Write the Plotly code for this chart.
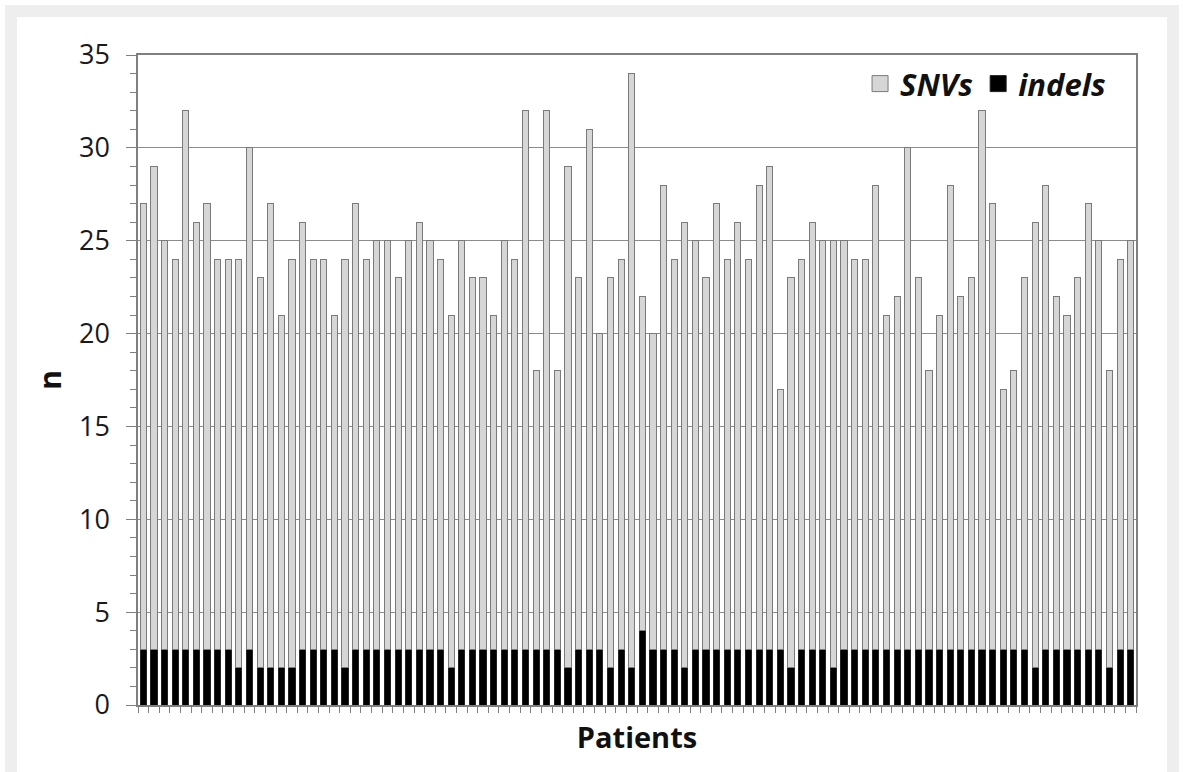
import plotly.graph_objects as go

# ---- data ----
patients = list(range(1, 95))

snvs = [24, 26, 22, 21, 29, 23, 24, 21, 21, 22,
        27, 21, 25, 19, 22, 23, 21, 21, 18, 22,
        24, 21, 22, 22, 20, 22, 23, 22, 21, 19,
        22, 20, 20, 18, 22, 21, 29, 15, 29, 15,
        27, 20, 28, 17, 21, 21, 32, 18, 17, 25,
        21, 24, 22, 20, 24, 21, 23, 21, 25, 26,
        14, 21, 21, 23, 22, 23, 22, 21, 21, 25,
        18, 19, 27, 20, 15, 18, 25, 19, 20, 29,
        24, 14, 15, 20, 24, 25, 19, 18, 20, 24,
        22, 16, 21, 22]

indels = [3, 3, 3, 3, 3, 3, 3, 3, 3, 2,
          3, 2, 2, 2, 2, 3, 3, 3, 3, 2,
          3, 3, 3, 3, 3, 3, 3, 3, 3, 2,
          3, 3, 3, 3, 3, 3, 3, 3, 3, 3,
          2, 3, 3, 3, 2, 3, 2, 4, 3, 3,
          3, 2, 3, 3, 3, 3, 3, 3, 3, 3,
          3, 2, 3, 3, 3, 2, 3, 3, 3, 3,
          3, 3, 3, 3, 3, 3, 3, 3, 3, 3,
          3, 3, 3, 3, 2, 3, 3, 3, 3, 3,
          3, 2, 3, 3]

y_ticks = [0, 5, 10, 15, 20, 25, 30, 35]

# ---- layout geometry (pixels) ----
W, H = 1183, 772
L, R, T, B = 138, 47, 55, 67
PW, PH = W - L - R, H - T - B


def px(xp):
    return (xp - L) / PW


def py(yp):
    return (H - B - yp) / PH


FONT = "Open Sans"
AXIS_GRAY = "#7f7f7f"
SNV_FILL, SNV_EDGE = "#d6d6d6", "#7a7a7a"
INDEL_FILL, INDEL_EDGE = "#000000", "#222222"

fig = go.Figure()
fig.add_trace(go.Bar(
    x=patients, y=indels, name="indels", showlegend=False, legendgroup="indels",
    marker=dict(color=INDEL_FILL, line=dict(color=INDEL_EDGE, width=1)),
))
fig.add_trace(go.Bar(
    x=patients, y=snvs, name="SNVs", showlegend=False, legendgroup="SNVs",
    marker=dict(color=SNV_FILL, line=dict(color=SNV_EDGE, width=1)),
))
# legend entries with larger square swatches (no data of their own)
fig.add_trace(go.Scatter(
    x=[None], y=[None], mode="markers", name="SNVs", legendgroup="SNVs",
    marker=dict(symbol="square", size=16, color=SNV_FILL,
                line=dict(color=SNV_EDGE, width=1)),
))
fig.add_trace(go.Scatter(
    x=[None], y=[None], mode="markers", name="indels", legendgroup="indels",
    marker=dict(symbol="square", size=16, color=INDEL_FILL,
                line=dict(color=INDEL_EDGE, width=1)),
))

boundaries = [p - 0.5 for p in patients] + [patients[-1] + 0.5]

fig.update_layout(
    width=W, height=H,
    margin=dict(l=L, r=R, t=T, b=B, pad=0),
    barmode="stack",
    bargap=0.42,
    paper_bgcolor="white",
    plot_bgcolor="white",
    font=dict(family=FONT, color="#1a1a1a"),
    showlegend=True,
    legend=dict(
        orientation="h",
        x=0.975, xanchor="right",
        y=0.997, yanchor="top",
        traceorder="normal",
        bgcolor="rgba(0,0,0,0)",
        font=dict(family=FONT, size=31, weight="bold", style="italic", color="#111111"),
        itemwidth=30,
    ),
    xaxis=dict(
        range=[patients[0] - 0.5, patients[-1] + 0.5],
        tickmode="array",
        tickvals=boundaries,
        showticklabels=False,
        ticks="outside", ticklen=6, tickcolor=AXIS_GRAY, tickwidth=1,
        showline=True, linecolor=AXIS_GRAY, linewidth=1.5, mirror=True,
        showgrid=False, zeroline=False,
        title=dict(text="Patients", standoff=16,
                   font=dict(family=FONT, size=29, weight="bold", color="#111111")),
    ),
    yaxis=dict(
        range=[0, 35],
        tickmode="array", tickvals=y_ticks,
        ticks="outside", ticklen=10, tickcolor=AXIS_GRAY, tickwidth=1,
        minor=dict(dtick=1, tick0=0, ticks="outside", ticklen=6,
                   tickcolor=AXIS_GRAY, showgrid=False),
        showgrid=True, gridcolor="#8c8c8c", gridwidth=1,
        showline=True, linecolor=AXIS_GRAY, linewidth=1.5, mirror=True,
        zeroline=False,
        tickfont=dict(family=FONT, size=27, color="#1a1a1a"),
        ticklabelstandoff=11,
        title=dict(text="n", standoff=8,
                   font=dict(family=FONT, size=30, weight="bold", color="#111111")),
    ),
    shapes=[
        # light gray frame around the white panel
        dict(type="rect", xref="paper", yref="paper", layer="below",
             x0=px(5), x1=px(1179), y0=py(H + 40), y1=py(5),
             fillcolor="#eeeeee", line=dict(width=0)),
        dict(type="rect", xref="paper", yref="paper", layer="below",
             x0=px(17), x1=px(1167), y0=py(H + 40), y1=py(17),
             fillcolor="#ffffff", line=dict(width=0)),
    ],
)

fig.write_html("out.html")
